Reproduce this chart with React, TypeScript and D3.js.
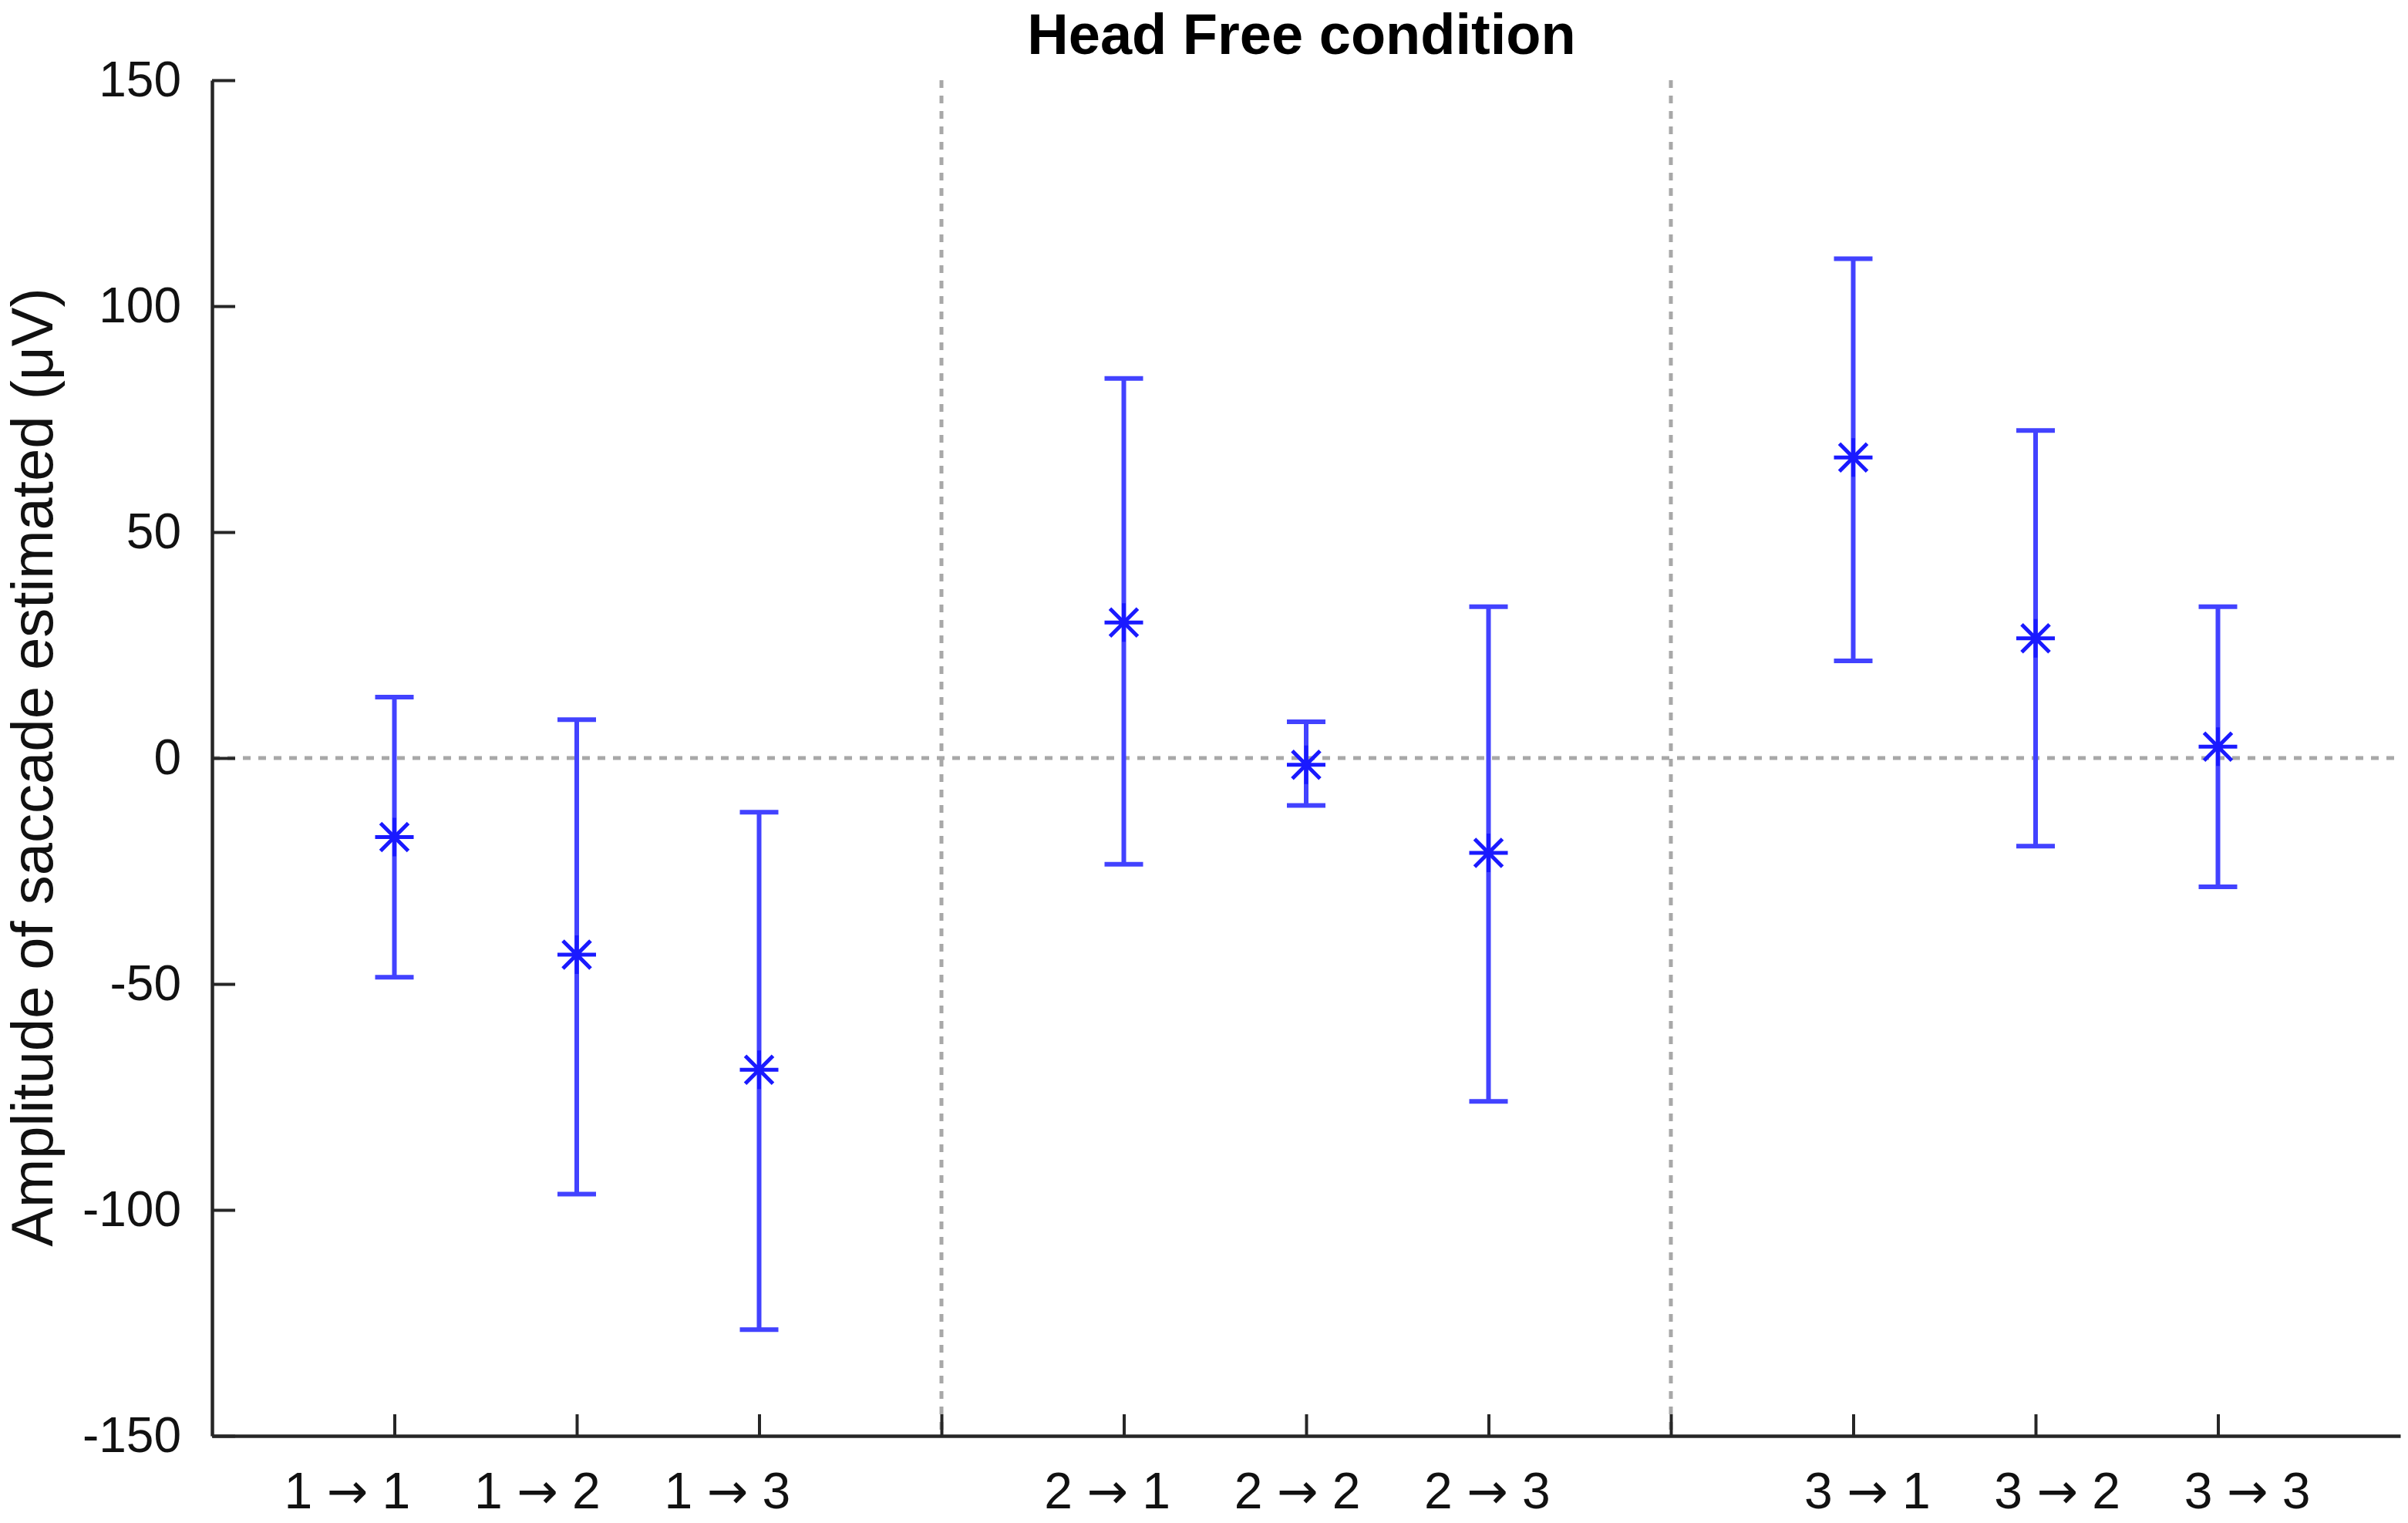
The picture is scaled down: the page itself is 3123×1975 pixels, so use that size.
import React, { useEffect, useRef } from "react";
import * as d3 from "d3";

// condition labels and their slot on the x axis
const labels: string[] = [
  "1 → 1", "1 → 2", "1 → 3",
  "2 → 1", "2 → 2", "2 → 3",
  "3 → 1", "3 → 2", "3 → 3",
];
const positions: number[] = [1, 2, 3, 5, 6, 7, 9, 10, 11];

// mean amplitude and error bar ends (µV)
const means: number[] = [-17.5, -43.5, -69, 30, -1.5, -21, 66.5, 26.5, 2.5];
const upper: number[] = [13.5, 8.5, -12, 84, 8, 33.5, 110.5, 72.5, 33.5];
const lower: number[] = [-48.5, -96.5, -126.5, -23.5, -10.5, -76, 21.5, -19.5, -28.5];

const yTicks: number[] = [-150, -100, -50, 0, 50, 100, 150];
const xTicks: number[] = [1, 2, 3, 4, 5, 6, 7, 8, 9, 10, 11];
const separators: number[] = [4, 8];

const W = 3123;
const H = 1975;
const FONT = "'Liberation Sans', Arial, Helvetica, sans-serif";

function drawChart(el: SVGSVGElement) {
  const svg = d3.select(el);
  svg.selectAll("*").remove();

  const x = d3.scaleLinear().domain([0, 12]).range([275, 3113]);
  // the text labels sit on a slightly wider spacing than the ticks
  const xLabel = d3.scaleLinear().domain([0, 12]).range([204, 3161]);
  const y = d3.scaleLinear().domain([-150, 150]).range([1862, 104]);

  const data = labels.map((label, i) => ({
    label,
    pos: positions[i],
    mean: means[i],
    hi: upper[i],
    lo: lower[i],
  }));

  // dotted reference lines
  const grid = svg
    .append("g")
    .attr("stroke", "#a8a8a8")
    .attr("stroke-width", 5)
    .attr("stroke-dasharray", "10,10")
    .attr("fill", "none");

  grid
    .append("line")
    .attr("x1", x(0))
    .attr("x2", x(12))
    .attr("y1", y(0))
    .attr("y2", y(0));

  grid
    .selectAll("line.sep")
    .data(separators)
    .enter()
    .append("line")
    .attr("class", "sep")
    .attr("x1", (d) => x(d))
    .attr("x2", (d) => x(d))
    .attr("y1", y(150))
    .attr("y2", y(-150));

  // axes
  const yAxis = svg
    .append("g")
    .attr("transform", `translate(${x(0)},0)`)
    .call(
      d3
        .axisLeft(y)
        .tickValues(yTicks)
        .tickSizeInner(-30)
        .tickSizeOuter(0)
        .tickPadding(40)
        .tickFormat((d) => String(d)) // plain hyphen, like the original
    );

  const xAxis = svg
    .append("g")
    .attr("transform", `translate(0,${y(-150)})`)
    .call(
      d3
        .axisBottom(x)
        .tickValues(xTicks)
        .tickSizeInner(-28)
        .tickSizeOuter(0)
        .tickFormat(() => "")
    );

  [yAxis, xAxis].forEach((g) => {
    g.select(".domain").attr("stroke", "#262626").attr("stroke-width", 4.5);
    g.selectAll(".tick line").attr("stroke", "#262626").attr("stroke-width", 4);
    g.selectAll(".tick text")
      .attr("fill", "#111")
      .style("font-family", FONT)
      .style("font-size", "64px");
  });

  // x labels, arrow set in DejaVu so it is as wide as a digit
  const lbl = svg
    .append("g")
    .selectAll("text")
    .data(data)
    .enter()
    .append("text")
    .attr("x", (d) => xLabel(d.pos))
    .attr("y", 1956)
    .attr("text-anchor", "middle")
    .attr("fill", "#111")
    .style("font-family", FONT)
    .style("font-size", "66px");

  lbl.each(function (d) {
    const [a, b] = d.label.split(" → ");
    const t = d3.select(this);
    t.append("tspan").text(a + " ");
    t.append("tspan")
      .style("font-family", "'DejaVu Sans', sans-serif")
      .style("font-size", "64px")
      .text("→");
    t.append("tspan").text(" " + b);
  });

  // error bars
  const capHalf = 25;
  const bars = svg
    .append("g")
    .attr("stroke", "#4242ff")
    .attr("stroke-width", 6)
    .attr("fill", "none");

  bars
    .selectAll("path")
    .data(data)
    .enter()
    .append("path")
    .attr("d", (d) => {
      const cx = x(d.pos);
      return (
        `M${cx},${y(d.hi)}V${y(d.lo)}` +
        `M${cx - capHalf},${y(d.hi)}H${cx + capHalf}` +
        `M${cx - capHalf},${y(d.lo)}H${cx + capHalf}`
      );
    });

  // asterisk markers
  const r = 25;
  const rd = 18;
  svg
    .append("g")
    .attr("stroke", "#1a1aff")
    .attr("stroke-width", 5)
    .attr("fill", "none")
    .selectAll("path")
    .data(data)
    .enter()
    .append("path")
    .attr("transform", (d) => `translate(${x(d.pos)},${y(d.mean)})`)
    .attr(
      "d",
      `M${-r},0H${r}M0,${-r}V${r}M${-rd},${-rd}L${rd},${rd}M${-rd},${rd}L${rd},${-rd}`
    );

  // title
  svg
    .append("text")
    .attr("x", 1688)
    .attr("y", 70)
    .attr("text-anchor", "middle")
    .attr("fill", "#000")
    .style("font-family", FONT)
    .style("font-weight", "bold")
    .style("font-size", "74px")
    .text("Head Free condition");

  // y axis label
  svg
    .append("text")
    .attr("transform", `translate(68,${(y(150) + y(-150)) / 2 + 12}) rotate(-90)`)
    .attr("text-anchor", "middle")
    .attr("fill", "#111")
    .style("font-family", FONT)
    .style("font-size", "76px")
    .text("Amplitude of saccade estimated (μV)");
}

export default function App() {
  const ref = useRef<SVGSVGElement>(null);

  useEffect(() => {
    if (ref.current) drawChart(ref.current);
  }, []);

  return (
    <svg
      ref={ref}
      width={W}
      height={H}
      style={{ position: "absolute", left: 0, top: 0, background: "#fff" }}
    />
  );
}
